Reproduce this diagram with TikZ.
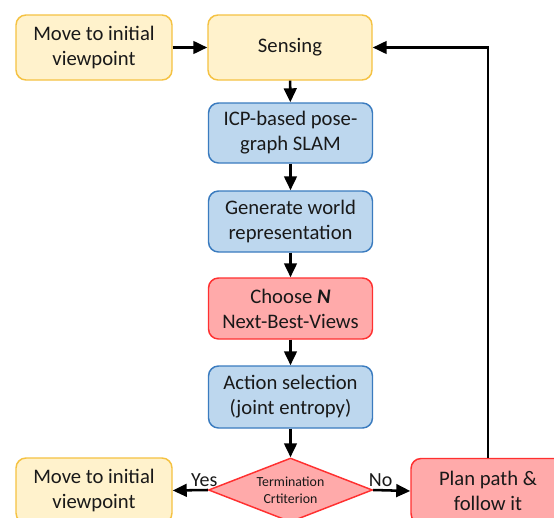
\documentclass[tikz,border=0pt]{standalone}
\usepackage{fontspec}
\setmainfont{Carlito}
\usetikzlibrary{shapes.geometric,arrows.meta}
\definecolor{yfill}{HTML}{FFF2CC}
\definecolor{ydraw}{HTML}{F5C242}
\definecolor{bfill}{HTML}{BDD7EE}
\definecolor{bdraw}{HTML}{3A7BBF}
\definecolor{rfill}{HTML}{FFAAAA}
\definecolor{rdraw}{HTML}{FF3030}
\tikzset{
  boxbase/.style={rounded corners=7.5pt, line width=1.1pt, align=center, inner sep=0pt,
    font=\fontsize{15.5pt}{18.8pt}\selectfont, text=black!90},
  ybox/.style={boxbase, draw=ydraw, fill=yfill},
  bbox/.style={boxbase, draw=bdraw, fill=bfill},
  rbox/.style={boxbase, draw=rdraw, fill=rfill},
  conn/.style={line width=1.9pt, -{Triangle[length=10.5pt,width=9.5pt]}},
  lbl/.style={font=\fontsize{15pt}{18pt}\selectfont, inner sep=1.5pt, text=black!90},
}
\begin{document}
\begin{tikzpicture}[x=0.75pt,y=-0.75pt]
\useasboundingbox (0,0) rectangle (554,518);
\clip (0,0) rectangle (554,518);
\fill[white] (0,0) rectangle (554,518);
\node[ybox, minimum width=117pt, minimum height=48.75pt] (mv1) at (94,47.5) {Move to initial\\viewpoint};
\node[ybox, minimum width=123pt, minimum height=48.75pt] (sense) at (290,47.5) {Sensing};
\node[bbox, minimum width=123pt, minimum height=45pt] (icp) at (290.5,133) {ICP-based pose-\\graph SLAM};
\node[bbox, minimum width=123pt, minimum height=45.75pt] (gen) at (290.5,221.5) {Generate world\\representation};
\node[rbox, minimum width=123pt, minimum height=45.75pt] (choose) at (290.5,308.5) {Choose \textbf{\textit{N}}\\Next-Best-Views};
\node[bbox, minimum width=123pt, minimum height=46.5pt] (act) at (290.5,397) {Action selection\\(joint entropy)};
\node[diamond, aspect=2.56, draw=rdraw, fill=rfill, line width=1.1pt, inner sep=0pt,
  minimum width=123pt, minimum height=48pt, align=center,
  font=\fontsize{10.4pt}{12.75pt}\selectfont, text=black!90] (term) at (290.5,490) {Termination\\Crtiterion};
\node[ybox, minimum width=117pt, minimum height=48.75pt] (mv2) at (94,490.5) {Move to initial\\viewpoint};
\node[rbox, minimum width=115.5pt, minimum height=48.75pt] (plan) at (488,491) {Plan path \&\\follow it};
\draw[conn] (mv1) -- (sense);
\draw[conn] (sense) -- (icp);
\draw[conn] (icp) -- (gen);
\draw[conn] (gen) -- (choose);
\draw[conn] (choose) -- (act);
\draw[conn] (act) -- (term);
\draw[conn] (term.west) -- node[lbl, above, pos=0.1] {Yes} (mv2.east);
\draw[conn] (term.east) -- node[lbl, above, pos=0.2] {No} (plan.west);
\draw[conn] (plan.north) -- (plan.north |- sense.east) -- (sense.east);
\end{tikzpicture}
\end{document}
